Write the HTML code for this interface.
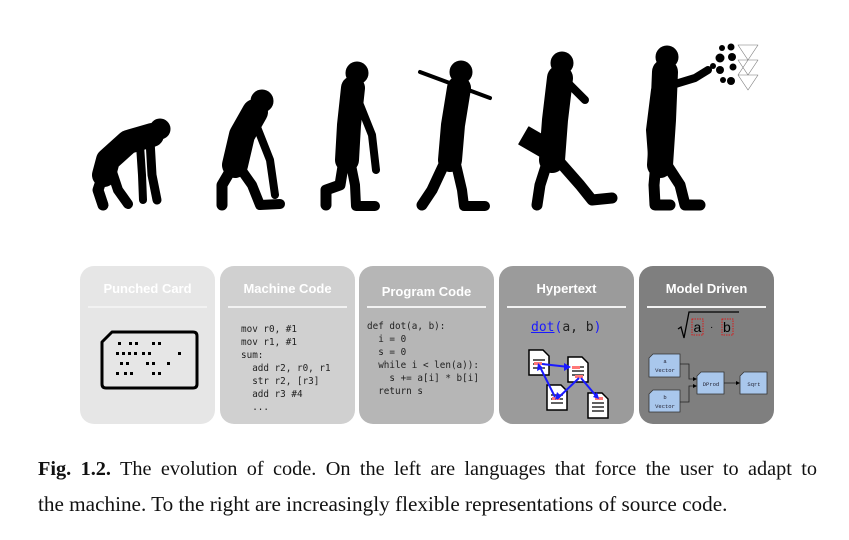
<!DOCTYPE html>
<html><head><meta charset="utf-8"><style>
body{margin:0;width:849px;height:540px;background:#fff;position:relative;overflow:hidden;font-family:"Liberation Sans",sans-serif}
.p{position:absolute;top:266px;height:158px;width:135px;border-radius:14px}
.t{position:absolute;left:0;right:0;top:15px;text-align:center;color:#fff;font-weight:bold;font-size:13px}
.l{position:absolute;left:8px;right:8px;top:40px;height:1.5px;background:#f2f2f2}
.c{position:absolute;font-family:"DejaVu Sans Mono","Liberation Mono",monospace;font-size:9.3px;line-height:13px;white-space:pre;color:#222}
.cap{position:absolute;left:38px;width:779px;font-family:"Liberation Serif",serif;color:#111;white-space:nowrap}
</style></head><body>
<svg width="849" height="230" style="position:absolute;left:0;top:0" stroke="#000" stroke-linecap="round" stroke-linejoin="round" fill="#000">
<circle cx="160" cy="129" r="10"/>
<path d="M152 135 L128 142 L108 160 L104 175" stroke-width="24" fill="none"/>
<path d="M150 140 L152 175 L157 200" stroke-width="9" fill="none"/>
<path d="M140 145 L142 175 L143 200" stroke-width="8" fill="none"/>
<path d="M104 172 L98 190 L103 205" stroke-width="11" fill="none"/>
<path d="M112 172 L118 190 L128 204" stroke-width="10" fill="none"/>
<circle cx="262" cy="101" r="11"/>
<path d="M255 112 L242 135 L235 165" stroke-width="26" fill="none"/>
<path d="M255 122 L270 160 L275 195" stroke-width="8" fill="none"/>
<path d="M232 168 L222 185 L222 205" stroke-width="11" fill="none"/>
<path d="M240 168 L252 185 L260 205 L280 204" stroke-width="10" fill="none"/>
<circle cx="357" cy="73" r="11"/>
<path d="M353 88 L349 125 L347 160" stroke-width="24" fill="none"/>
<path d="M358 100 L372 135 L376 170" stroke-width="8" fill="none"/>
<path d="M344 160 L340 185 L326 190 L326 205" stroke-width="11" fill="none"/>
<path d="M350 160 L355 185 L356 206 L375 206" stroke-width="10" fill="none"/>
<circle cx="461" cy="72" r="11"/>
<path d="M420 72 L490 98" stroke-width="4" fill="none"/>
<path d="M459 88 L453 125 L450 160" stroke-width="24" fill="none"/>
<path d="M446 160 L432 190 L422 205" stroke-width="11" fill="none"/>
<path d="M455 160 L462 190 L464 206 L485 206" stroke-width="10" fill="none"/>
<circle cx="562" cy="63" r="11"/>
<path d="M560 78 L555 120 L552 160" stroke-width="26" fill="none"/>
<path d="M565 80 L585 100" stroke-width="8" fill="none"/>
<rect x="522" y="132" width="26" height="20" transform="rotate(30 535 142)" stroke-width="1"/>
<path d="M548 160 L540 185 L537 205" stroke-width="11" fill="none"/>
<path d="M558 160 L580 185 L592 200 L612 198" stroke-width="11" fill="none"/>
<circle cx="667" cy="57" r="11"/>
<path d="M665 72 L663 120 L660 165" stroke-width="26" fill="none"/>
<path d="M672 85 L695 78 L708 70" stroke-width="8" fill="none"/>
<path d="M655 90 L650 130 L653 170" stroke-width="8" fill="none"/>
<path d="M656 162 L654 185 L655 205 L670 205" stroke-width="11" fill="none"/>
<path d="M665 162 L680 185 L685 205 L700 205" stroke-width="11" fill="none"/>
<g stroke="none"><circle cx="722" cy="48" r="3"/><circle cx="731" cy="47" r="3.5"/><circle cx="720" cy="58" r="4.5"/><circle cx="732" cy="57" r="4"/><circle cx="720" cy="70" r="4"/><circle cx="733" cy="67" r="3.5"/><circle cx="723" cy="80" r="3"/><circle cx="731" cy="81" r="4"/><circle cx="713" cy="66" r="3"/></g>
<g stroke="#777" stroke-width="0.6" fill="none"><path d="M738 45 L758 45 L748 60 Z M738 60 L758 60 L748 75 Z M738 75 L758 75 L748 90 Z M738 45 L748 60 L738 75 L748 90"/></g>
</svg>

<div class="p" style="left:80px;background:#e6e6e6"><div class="t">Punched Card</div><div class="l"></div>
<svg style="position:absolute;left:20px;top:62px" width="100" height="70"><path d="M12 4 L93 4 Q97 4 97 8 L97 56 Q97 60 93 60 L6 60 Q2 60 2 56 L2 14 Z" fill="none" stroke="#000" stroke-width="3" stroke-linejoin="round"/>
<g fill="#000"><rect x="18" y="14" width="3" height="3"/><rect x="29" y="14" width="3" height="3"/><rect x="35" y="14" width="3" height="3"/><rect x="52" y="14" width="3" height="3"/><rect x="58" y="14" width="3" height="3"/>
<rect x="16" y="24" width="3" height="3"/><rect x="22" y="24" width="3" height="3"/><rect x="28" y="24" width="3" height="3"/><rect x="34" y="24" width="3" height="3"/><rect x="42" y="24" width="3" height="3"/><rect x="48" y="24" width="3" height="3"/><rect x="78" y="24" width="3" height="3"/>
<rect x="20" y="34" width="3" height="3"/><rect x="26" y="34" width="3" height="3"/><rect x="46" y="34" width="3" height="3"/><rect x="52" y="34" width="3" height="3"/><rect x="67" y="34" width="3" height="3"/>
<rect x="16" y="44" width="3" height="3"/><rect x="24" y="44" width="3" height="3"/><rect x="30" y="44" width="3" height="3"/><rect x="52" y="44" width="3" height="3"/><rect x="58" y="44" width="3" height="3"/></g></svg></div>

<div class="p" style="left:220px;background:#d0d0d0"><div class="t">Machine Code</div><div class="l"></div>
<div class="c" style="left:21px;top:57px">mov r0, #1
mov r1, #1
sum:
  add r2, r0, r1
  str r2, [r3]
  add r3 #4
  ...</div></div>

<div class="p" style="left:359px;background:#b6b6b6"><div class="t" style="top:18px">Program Code</div><div class="l"></div>
<div class="c" style="left:8px;top:54px">def dot(a, b):
  i = 0
  s = 0
  while i &lt; len(a)):
    s += a[i] * b[i]
  return s</div></div>

<div class="p" style="left:499px;background:#9b9b9b"><div class="t">Hypertext</div><div class="l"></div>
<div class="c" style="left:32px;top:55px;font-size:13px;color:#222"><span style="color:#1a1aff;text-decoration:underline">dot</span><span style="color:#1a1aff">(</span>a, b<span style="color:#1a1aff">)</span></div>
<svg style="position:absolute;left:0;top:0" width="135" height="158">
<g fill="#fff" stroke="#000" stroke-width="1.5">
<path d="M30 84 L44 84 L50 90 L50 109 L30 109 Z"/><path d="M69 91 L83 91 L89 97 L89 116 L69 116 Z"/><path d="M48 119 L62 119 L68 125 L68 144 L48 144 Z"/><path d="M89 127 L103 127 L109 133 L109 152 L89 152 Z"/></g>
<g stroke="#000" stroke-width="1.2"><path d="M34 94h12M34 98h12M34 102h12M73 101h12M73 105h12M73 109h12M52 129h12M52 133h12M52 137h12M93 137h12M93 141h12M93 145h12"/></g>
<g fill="#f77"><rect x="35" y="96" width="8" height="3"/><rect x="73" y="100" width="8" height="3"/><rect x="76" y="109" width="8" height="3"/><rect x="53" y="131" width="8" height="3"/><rect x="96" y="131" width="8" height="3"/></g>
<g stroke="#1a1aff" stroke-width="2" fill="none"><path d="M43 98 L70 101"/><path d="M40 99 L56 131"/><path d="M80 112 L58 133"/><path d="M82 112 L98 131"/></g>
<g fill="#1a1aff"><path d="M72 101 L65 97 L65 105Z"/><path d="M39 97 L38 105 L44 102Z"/><path d="M56 134 L58 126 L62 130Z"/><path d="M100 133 L94 131 L98 126Z"/></g>
</svg></div>

<div class="p" style="left:639px;background:#7f7f7f"><div class="t">Model Driven</div><div class="l"></div>
<svg style="position:absolute;left:0;top:0" width="136" height="158">
<path d="M39 63 L42 61 L45 72 L50 46 L100 46" stroke="#000" stroke-width="1.3" fill="none"/>
<rect x="53" y="53" width="11" height="16" fill="none" stroke="#e00" stroke-width="0.8" stroke-dasharray="1.5,1"/>
<rect x="83" y="53" width="11" height="16" fill="none" stroke="#e00" stroke-width="0.8" stroke-dasharray="1.5,1"/>
<text x="54.5" y="66" font-size="14" font-family="Liberation Sans">a</text><text x="71" y="64" font-size="10">·</text><text x="84" y="66" font-size="14" font-family="Liberation Sans">b</text>
<g fill="#a9c7ec" stroke="#333" stroke-width="0.8">
<path d="M14 88 L41 88 L41 111 L10 111 L10 92Z"/><path d="M14 124 L41 124 L41 146 L10 146 L10 128Z"/><path d="M62 106 L85 106 L85 128 L58 128 L58 110Z"/><path d="M105 106 L128 106 L128 128 L101 128 L101 110Z"/></g>
<g stroke="#222" fill="none" stroke-width="0.8"><path d="M41 98 L50 98 L50 113 L57 113"/><path d="M41 136 L50 136 L50 120 L57 120"/><path d="M85 117 L100 117"/></g>
<g fill="#000"><path d="M58 113 L54 111 L54 115Z"/><path d="M58 120 L54 118 L54 122Z"/><path d="M101 117 L97 115 L97 119Z"/></g>
<g font-family="Liberation Mono" font-size="5.5" text-anchor="middle" fill="#223"><text x="26" y="97">a</text><text x="26" y="106">Vector</text><text x="26" y="133">b</text><text x="26" y="142">Vector</text><text x="72" y="120">DProd</text><text x="115" y="120">Sqrt</text></g>
</svg></div>

<div class="cap" style="top:458px;font-size:20.3px;text-align:justify;text-align-last:justify"><b>Fig. 1.2.</b> The evolution of code. On the left are languages that force the user to adapt to</div>
<div class="cap" style="top:492px;font-size:21.2px">the machine. To the right are increasingly flexible representations of source code.</div>
</body></html>
